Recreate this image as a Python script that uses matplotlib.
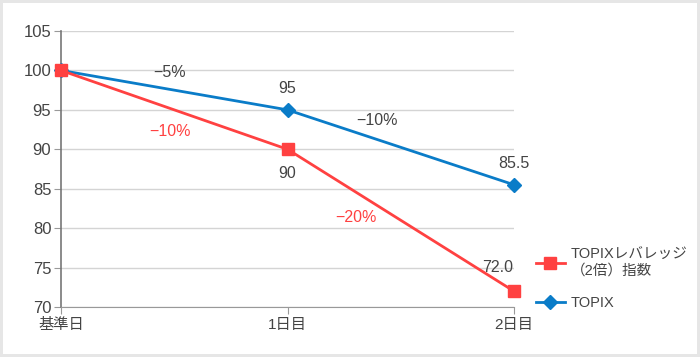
import matplotlib.pyplot as plt
from matplotlib.patches import Rectangle

plt.rcParams['font.family'] = ['Liberation Sans', 'Noto Sans CJK JP', 'DejaVu Sans']

days = ['基準日', '1日目', '2日目']
leverage = [100, 90, 72.0]
topix = [100, 95, 85.5]
lev_labels = ['', '90', '72.0']
topix_labels = ['', '95', '85.5']
red = '#ff4141'
blue = '#0a7cc8'
txt = '#444444'
fs = 11.5

fig = plt.figure(figsize=(7, 3.57), dpi=100)
fig.patch.set_facecolor('#e6e6e6')
fig.patches.append(Rectangle((3/700, 3/357), 694/700, 351/357, transform=fig.transFigure,
                             facecolor='white', edgecolor='none', zorder=-5))

ax = fig.add_axes([61/700, 1-307/357, 453/700, 276/357])
ax.set_zorder(2)
ax.set_facecolor('none')
x = range(len(days))
ax.plot(x, leverage, color=red, lw=2, marker='s', ms=8.5, clip_on=False, zorder=5,
        label='TOPIXレバレッジ\n（2倍）指数')
ax.plot(x, topix, color=blue, lw=2, marker='D', ms=7.5, clip_on=False, zorder=4,
        label='TOPIX')

ax.set_xlim(0, 2)
ax.set_ylim(70, 105)
ax.set_yticks(range(70, 106, 5))
ax.set_xticks(list(x))
ax.set_xticklabels(days)
ax.grid(axis='y', color='#d4d4d4', lw=1)
ax.set_axisbelow(True)
for s in ['top', 'right']:
    ax.spines[s].set_visible(False)
ax.spines['left'].set_color('#777777')
ax.spines['bottom'].set_color('#999999')
ax.spines['left'].set_linewidth(1.2)
ax.tick_params(axis='y', colors='#999999', labelcolor=txt, labelsize=fs + 0.5, length=5, pad=2)
ax.tick_params(axis='x', colors='#999999', labelcolor=txt, labelsize=11, length=5, pad=3)

# point labels
for i in range(1, 3):
    ax.annotate(topix_labels[i], (i, topix[i]), xytext=(0, 10), textcoords='offset points',
                ha='center', va='bottom', color=txt, fontsize=fs)
ax.annotate(lev_labels[1], (1, leverage[1]), xytext=(0, -12), textcoords='offset points',
            ha='center', va='top', color=txt, fontsize=fs)
ax.annotate(lev_labels[2], (2, leverage[2]), xytext=(-12, 12), textcoords='offset points',
            ha='center', va='bottom', color=txt, fontsize=fs, annotation_clip=False)

# change labels
ax.text(0.48, 99.8, '−5%', ha='center', va='center', color=txt, fontsize=fs)
ax.text(1.395, 93.6, '−10%', ha='center', va='center', color=txt, fontsize=fs)
ax.text(0.48, 92.3, '−10%', ha='center', va='center', color=red, fontsize=fs)
ax.text(1.30, 81.4, '−20%', ha='center', va='center', color=red, fontsize=fs)

leg = ax.legend(loc='upper left', bbox_to_anchor=(524/700, 1-236/357), bbox_transform=fig.transFigure,
                frameon=False, fontsize=10.5, handlelength=2.0, handletextpad=0.4,
                labelspacing=1.25, labelcolor=txt, borderpad=0.3)

fig.savefig('out.png', dpi=100, facecolor=fig.get_facecolor())
